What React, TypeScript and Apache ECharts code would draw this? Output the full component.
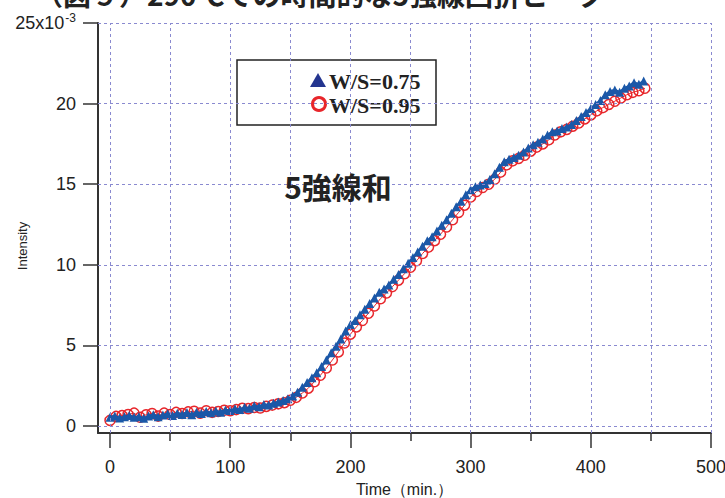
import React, { useEffect, useRef } from "react";
import * as echarts from "echarts";

const seriesNames = ["W/S=0.75", "W/S=0.95"];

const blueTime = [
  0, 4, 8, 12, 16, 20, 24, 28, 32, 36, 40, 44, 48, 52, 56, 60, 64, 68, 72, 76,
  80, 84, 88, 92, 96, 100, 104, 108, 112, 116, 120, 124, 128, 132, 136, 140,
  144, 148, 152, 156, 160, 164, 168, 172, 176, 180, 184, 188, 192, 196, 200,
  204, 208, 212, 216, 220, 224, 228, 232, 236, 240, 244, 248, 252, 256, 260,
  264, 268, 272, 276, 280, 284, 288, 292, 296, 300, 304, 308, 312, 316, 320,
  324, 328, 332, 336, 340, 344, 348, 352, 356, 360, 364, 368, 372, 376, 380,
  384, 388, 392, 396, 400, 404, 408, 412, 416, 420, 424, 428, 432, 436, 440, 444,
];
const blueIntensity = [
  0.55, 0.62, 0.5, 0.58, 0.66, 0.54, 0.6, 0.48, 0.62, 0.7, 0.58, 0.68, 0.76,
  0.66, 0.8, 0.72, 0.84, 0.7, 0.86, 0.78, 0.9, 0.82, 0.94, 0.86, 1.0, 0.96,
  1.08, 1.02, 1.16, 1.1, 1.26, 1.2, 1.34, 1.3, 1.42, 1.5, 1.58, 1.7, 1.86, 2.1,
  2.4, 2.7, 3.0, 3.3, 3.7, 4.1, 4.55, 4.95, 5.4, 5.9, 6.3, 6.55, 6.9, 7.25, 7.6,
  7.95, 8.3, 8.5, 8.75, 9.1, 9.4, 9.75, 10.1, 10.45, 10.8, 11.15, 11.5, 11.75,
  12.1, 12.45, 12.8, 13.2, 13.6, 13.95, 14.35, 14.65, 14.85, 14.95, 15.05,
  15.3, 15.65, 16.05, 16.4, 16.55, 16.65, 16.8, 17.0, 17.25, 17.45, 17.6, 17.8,
  18.05, 18.25, 18.3, 18.45, 18.55, 18.7, 18.95, 19.2, 19.45, 19.7, 19.95,
  20.2, 20.55, 20.75, 20.85, 20.7, 20.95, 21.1, 21.3, 21.2, 21.4,
];

const redTime = [
  0, 5, 10, 15, 20, 25, 30, 35, 40, 45, 50, 55, 60, 65, 70, 75, 80, 85, 90, 95,
  100, 105, 110, 115, 120, 125, 130, 135, 140, 145, 150, 155, 160, 165, 170,
  175, 180, 185, 190, 195, 200, 205, 210, 215, 220, 225, 230, 235, 240, 245,
  250, 255, 260, 265, 270, 275, 280, 285, 290, 295, 300, 305, 310, 315, 320,
  325, 330, 335, 340, 345, 350, 355, 360, 365, 370, 375, 380, 385, 390, 395,
  400, 405, 410, 415, 420, 425, 430, 435, 440, 445,
];
const redIntensity = [
  0.35, 0.6, 0.65, 0.72, 0.8, 0.55, 0.7, 0.78, 0.62, 0.8, 0.72, 0.85, 0.78,
  0.88, 0.92, 0.8, 0.95, 0.85, 0.9, 0.98, 0.95, 1.02, 1.1, 1.08, 1.15, 1.12,
  1.22, 1.3, 1.38, 1.45, 1.6, 1.78, 2.05, 2.35, 2.75, 3.15, 3.6, 4.1, 4.6, 5.15,
  5.7, 6.15, 6.55, 7.0, 7.45, 7.9, 8.25, 8.65, 9.05, 9.45, 9.85, 10.25, 10.7,
  11.1, 11.5, 11.9, 12.35, 12.8, 13.25, 13.7, 14.2, 14.55, 14.8, 15.0, 15.3,
  15.75, 16.2, 16.45, 16.6, 16.8, 17.05, 17.3, 17.5, 17.75, 18.05, 18.25, 18.4,
  18.6, 18.8, 19.05, 19.3, 19.55, 19.75, 19.95, 20.15, 20.35, 20.55, 20.7,
  20.8, 20.95,
];

const xMajorTicks = [0, 100, 200, 300, 400, 500];
const xMinorTicks = [50, 150, 250, 350, 450];
const xGridLines = [0, 50, 100, 150, 200, 250, 300, 350, 400, 450, 500];
const yTicks = [0, 5, 10, 15, 20, 25];
const yTopLabel = "{b|25x10}{sup|-3}";

const titleText = "（図９）290℃での時間的な5強線回折ピーク";
const annotationText = "5強線和";
const xName = "Time（min.）";
const yName = "Intensity";

export default function App() {
  const ref = useRef<HTMLDivElement>(null);
  useEffect(() => {
    if (!ref.current) return;
    const chart = echarts.init(ref.current, null, { renderer: "svg" });
    const axisColor = "#333";
    const gridColor = "#8a8ad0";
    const blue = "#1b58a8";
    const red = "#e8262b";
    const option: any = {
      animation: false,
      backgroundColor: "#fff",
      grid: { left: 98, right: 14, top: 23, bottom: 65, containLabel: false, outerBoundsMode: "none" },
      xAxis: [
        {
          type: "value",
          min: -10,
          max: 500,
          name: xName,
          nameLocation: "middle",
          nameGap: 48,
          nameMoveOverlap: false,
          nameTextStyle: { fontSize: 16, color: "#222", fontFamily: "Liberation Sans" },
          axisLine: { show: true, onZero: false, lineStyle: { color: axisColor, width: 2 } },
          axisTick: { show: true, inside: false, customValues: xMajorTicks, length: 15, lineStyle: { color: axisColor, width: 1.5 } },
          axisLabel: { customValues: xMajorTicks, margin: 25, fontSize: 18, color: "#222", fontFamily: "Liberation Sans" },
          splitLine: { show: false },
        },
        {
          type: "value",
          min: -10,
          max: 500,
          position: "bottom",
          axisLine: { show: false, onZero: false },
          axisTick: { show: true, inside: false, customValues: xMinorTicks, length: 8, lineStyle: { color: axisColor, width: 1.5 } },
          axisLabel: { show: false },
          splitLine: { show: false },
        },
      ],
      yAxis: {
        type: "value",
        min: -0.43,
        max: 25,
        axisLine: { show: true, onZero: false, lineStyle: { color: axisColor, width: 2 } },
        axisTick: { show: true, inside: false, customValues: yTicks, length: 15, lineStyle: { color: axisColor, width: 1.5 } },
        axisLabel: {
          customValues: yTicks,
          margin: 22,
          fontSize: 18,
          color: "#222",
          fontFamily: "Liberation Sans",
          formatter: (v: number) => (v === 25 ? yTopLabel : String(v)),
          rich: {
            b: { fontSize: 18, color: "#222", fontFamily: "Liberation Sans", lineHeight: 22 },
            sup: { fontSize: 12, verticalAlign: "top", lineHeight: 12, padding: [0, 0, 10, 1], color: "#222", fontFamily: "Liberation Sans" },
          },
        },
        splitLine: { show: false },
      },
      series: [
        {
          type: "line",
          name: "grid",
          data: [],
          z: 1,
          silent: true,
          markLine: {
            silent: true,
            symbol: ["none", "none"],
            label: { show: false },
            lineStyle: { color: gridColor, type: [3, 3], width: 1 },
            data: [
              ...xGridLines.map((v) => ({ xAxis: v })),
              ...yTicks.map((v) => ({ yAxis: v })),
            ],
          },
        },
        {
          type: "line",
          name: seriesNames[1],
          z: 3,
          data: redTime.map((t, i) => [t, redIntensity[i]]),
          symbol: "circle",
          symbolSize: 10,
          showAllSymbol: true,
          lineStyle: { color: red, width: 1 },
          itemStyle: { color: "rgba(255,255,255,0)", borderColor: red, borderWidth: 1.5 },
        },
        {
          type: "line",
          name: seriesNames[0],
          z: 4,
          data: blueTime.map((t, i) => [t, blueIntensity[i]]),
          symbol: "triangle",
          symbolSize: 9,
          showAllSymbol: true,
          lineStyle: { color: blue, width: 2.5 },
          itemStyle: { color: blue },
        },
      ],
      graphic: [
        {
          type: "text",
          x: 35,
          y: 8,
          style: {
            text: titleText,
            fontSize: 28,
            fontWeight: "bold",
            fontFamily: "Noto Sans CJK JP",
            fill: "#222",
            verticalAlign: "bottom",
          },
        },
        {
          type: "text",
          x: 22,
          y: 246,
          rotation: Math.PI / 2,
          style: {
            text: yName,
            fontSize: 13,
            fontFamily: "Liberation Sans",
            fill: "#222",
            align: "center",
            verticalAlign: "middle",
          },
        },
        {
          type: "text",
          x: 338,
          y: 186,
          z: 10,
          style: {
            text: annotationText,
            fontSize: 30,
            fontWeight: "bold",
            fontFamily: "Noto Sans CJK JP",
            fill: "#222",
            align: "center",
            verticalAlign: "middle",
          },
        },
        {
          type: "group",
          x: 237,
          y: 60,
          z: 20,
          children: [
            {
              type: "rect",
              shape: { x: 0, y: 0, width: 199, height: 65 },
              style: { fill: "#fff", stroke: "#222", lineWidth: 1.5 },
            },
            {
              type: "polygon",
              shape: { points: [[73, 27], [89, 27], [81, 13]] },
              style: { fill: "#24358f" },
            },
            {
              type: "circle",
              shape: { cx: 82, cy: 44, r: 6.5 },
              style: { fill: "none", stroke: red, lineWidth: 3 },
            },
            {
              type: "text",
              x: 92,
              y: 21,
              style: {
                text: seriesNames[0],
                fontSize: 22,
                fontWeight: "bold",
                fontFamily: "Liberation Serif",
                fill: "#222",
                verticalAlign: "middle",
              },
            },
            {
              type: "text",
              x: 92,
              y: 45,
              style: {
                text: seriesNames[1],
                fontSize: 22,
                fontWeight: "bold",
                fontFamily: "Liberation Serif",
                fill: "#222",
                verticalAlign: "middle",
              },
            },
          ],
        },
      ],
    };
    chart.setOption(option);
    return () => chart.dispose();
  }, []);
  return (
    <div
      ref={ref}
      style={{ position: "absolute", left: 0, top: 0, width: 725, height: 498 }}
    />
  );
}
